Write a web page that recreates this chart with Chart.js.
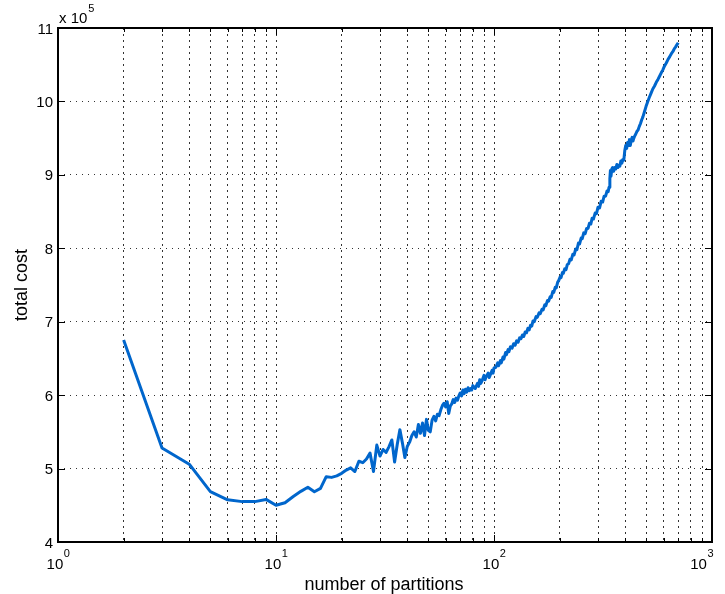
<!DOCTYPE html>
<html>
<head>
<meta charset="utf-8">
<script src="https://cdn.jsdelivr.net/npm/chart.js@4.4.1/dist/chart.umd.min.js"></script>
<style>
html,body{margin:0;padding:0;background:#fff;}
canvas{display:block;}
</style>
</head>
<body>
<canvas id="c" width="725" height="594"></canvas>
<script>
// number of partitions
const partitions = [2,3,4,5,6,7,8,9,10,11,12,13,14,15,16,17,18,19,20,21,22,23,24,25,26,27,28,29,30,
31,32,33,34,35,36,37,38,39,40,41,42,43,44,45,46,47,48,49,50,51,52,53,54,55,56,57,58,59,60,
61,62,63,64,65,66,67,68,69,70,71,72,73,74,75,76,77,78,79,80,82,84,85,86,87,88,90,91,92,94,95,96,98,99,100,
102,104,105,107,108,110,111,113,114,116,117,119,121,123,125,127,129,131,133,135,137,139,141,143,145,147,149,
151,153,156,158,161,163,166,168,171,173,176,178,181,183,186,188,191,193,196,198,201,203,206,208,211,214,217,220,
223,226,230,233,237,240,244,247,251,254,258,262,266,270,274,278,282,286,291,295,300,305,310,315,320,325,330,334,
337,340,342,344,347,350,354,358,362,366,370,374,378,382,386,390,394,398,402,406,410,414,418,422,426,430,434,438,
442,446,452,458,464,470,476,482,490,498,506,515,525,535,545,555,565,574,585,595,605,616,628,640,651,662,672,680,690,700];
// total cost (x 10^5)
const totalCost = [6.75,5.28,5.06,4.685,4.575,4.55,4.55,4.58,4.50,4.535,4.62,4.69,4.745,4.685,4.73,4.89,4.88,4.90,4.935,4.98,5.01,4.96,5.10,5.08,5.13,5.21,4.96,5.32,5.17,
5.26,5.22,5.30,5.39,5.09,5.33,5.53,5.35,5.15,5.30,5.36,5.45,5.50,5.43,5.60,5.48,5.62,5.45,5.67,5.52,5.50,5.66,5.71,5.65,5.74,5.72,5.80,5.86,5.89,5.84,
5.91,5.75,5.85,5.88,5.94,5.90,5.96,5.93,5.99,6.03,5.99,6.07,6.02,6.08,6.04,6.10,6.06,6.09,6.07,6.13,6.09,6.16,6.12,6.21,6.16,6.19,6.27,6.21,6.25,6.30,6.24,6.27,6.34,6.30,6.37,
6.38,6.44,6.40,6.47,6.44,6.52,6.49,6.58,6.55,6.62,6.59,6.66,6.64,6.70,6.68,6.74,6.72,6.78,6.77,6.82,6.80,6.86,6.85,6.91,6.89,6.95,6.94,
7.01,7.00,7.07,7.06,7.12,7.11,7.17,7.16,7.23,7.22,7.29,7.28,7.34,7.33,7.41,7.40,7.47,7.46,7.54,7.56,7.61,7.60,7.67,7.66,7.72,7.71,7.78,7.79,
7.85,7.84,7.92,7.91,7.99,7.98,8.07,8.06,8.14,8.13,8.21,8.20,8.27,8.27,8.34,8.33,8.41,8.40,8.48,8.47,8.56,8.55,8.64,8.63,8.71,8.71,8.78,8.77,
8.83,8.95,9.06,8.98,9.08,9.10,9.05,9.10,9.08,9.14,9.10,9.13,9.12,9.19,9.16,9.21,9.20,9.33,9.40,9.36,9.44,9.40,9.48,9.40,9.47,9.51,9.46,9.50,
9.53,9.55,9.59,9.61,9.66,9.70,9.75,9.79,9.86,9.93,9.99,10.05,10.11,10.17,10.21,10.26,10.30,10.34,10.39,10.43,10.48,10.52,10.57,10.61,10.65,10.68,10.72,10.74,10.77,10.80];
// axis ticks
const xMajorTicks = [1,10,100,1000];
const xMinorMultipliers = [1,2,3,4,5,6,7,8,9];
const yTicks = [4,5,6,7,8,9,10,11];
const yScaleFactor = 100000;

const points = partitions.map((p,i)=>({x:p,y:totalCost[i]*yScaleFactor}));

const FONT = '"Liberation Sans", Arial, Helvetica, sans-serif';

const decorPlugin = {
  id: 'decor',
  afterDraw(chart){
    const ctx = chart.ctx;
    const a = chart.chartArea;
    const xs = chart.scales.x, ys = chart.scales.y;
    ctx.save();
    // inward tick marks
    ctx.strokeStyle = '#000';
    ctx.lineWidth = 1;
    ctx.beginPath();
    xs.ticks.forEach(t=>{
      const px = Math.round(xs.getPixelForValue(t.value))+0.5;
      const isMajor = xMajorTicks.includes(t.value);
      const len = isMajor ? 7 : 4;
      ctx.moveTo(px, a.bottom); ctx.lineTo(px, a.bottom-len);
      ctx.moveTo(px, a.top); ctx.lineTo(px, a.top+len);
    });
    yTicks.forEach(v=>{
      const py = Math.round(ys.getPixelForValue(v*yScaleFactor))+0.5;
      ctx.moveTo(a.left, py); ctx.lineTo(a.left+7, py);
      ctx.moveTo(a.right, py); ctx.lineTo(a.right-7, py);
    });
    ctx.stroke();
    // axes box
    ctx.lineWidth = 2;
    ctx.strokeRect(a.left, a.top, a.right-a.left, a.bottom-a.top);
    // y tick labels
    ctx.fillStyle = '#000';
    ctx.font = '15px ' + FONT;
    ctx.textAlign = 'right';
    ctx.textBaseline = 'alphabetic';
    yTicks.forEach(v=>{
      const py = ys.getPixelForValue(v*yScaleFactor);
      ctx.fillText(String(v), a.left-5, py+5.5);
    });
    // x tick labels 10^n
    xMajorTicks.forEach(v=>{
      const px = xs.getPixelForValue(v);
      ctx.font = '15px ' + FONT;
      const w1 = ctx.measureText('10').width;
      ctx.font = '11px ' + FONT;
      const exp = String(Math.round(Math.log10(v)));
      const w2 = ctx.measureText(exp).width;
      let left = px - (w1+w2)/2;
      if (left + w1 + w2 > a.right + 1) left = a.right + 1 - w1 - w2;
      ctx.textAlign = 'left';
      ctx.font = '15px ' + FONT;
      ctx.fillText('10', left, 569);
      ctx.font = '11px ' + FONT;
      ctx.fillText(exp, left + w1 + 0.5, 557);
    });
    // multiplier label
    ctx.textAlign = 'left';
    ctx.font = '15px ' + FONT;
    ctx.fillText('x 10', 59, 23);
    const wm = ctx.measureText('x 10').width;
    ctx.font = '11px ' + FONT;
    ctx.fillText('5', 59 + wm + 1, 12);
    // axis titles
    ctx.font = '18px ' + FONT;
    ctx.textAlign = 'center';
    ctx.fillText('number of partitions', (a.left+a.right)/2 - 1, 590);
    ctx.save();
    ctx.translate(27, (a.top+a.bottom)/2);
    ctx.rotate(-Math.PI/2);
    ctx.fillText('total cost', 0, 0);
    ctx.restore();
    ctx.restore();
  }
};

new Chart(document.getElementById('c'), {
  type: 'scatter',
  data: {
    datasets: [{
      data: points,
      showLine: true,
      borderColor: 'rgb(0,102,204)',
      backgroundColor: 'rgb(0,102,204)',
      borderWidth: 3,
      pointRadius: 0,
      tension: 0,
      borderJoinStyle: 'round'
    }]
  },
  options: {
    responsive: false,
    animation: false,
    devicePixelRatio: 1,
    layout: { padding: { left: 58, right: 13, top: 28, bottom: 52 } },
    plugins: { legend: { display: false }, tooltip: { enabled: false } },
    scales: {
      x: {
        type: 'logarithmic',
        min: 1, max: 1000,
        afterBuildTicks(scale){
          const t = [];
          for (let e = 0; e < 3; e++) {
            xMinorMultipliers.forEach(m => t.push({ value: m * Math.pow(10, e) }));
          }
          t.push({ value: 1000 });
          scale.ticks = t;
        },
        ticks: { display: false, autoSkip: false },
        grid: { color: '#333', lineWidth: 1, drawTicks: false },
        border: { display: false, dash: [2,4] },
        title: { display: false }
      },
      y: {
        type: 'linear',
        min: 400000, max: 1100000,
        afterBuildTicks(scale){
          scale.ticks = yTicks.map(v => ({ value: v * yScaleFactor }));
        },
        ticks: { display: false },
        grid: { color: '#333', lineWidth: 1, drawTicks: false },
        border: { display: false, dash: [1,5] },
        title: { display: false }
      }
    }
  },
  plugins: [decorPlugin]
});
</script>
</body>
</html>
